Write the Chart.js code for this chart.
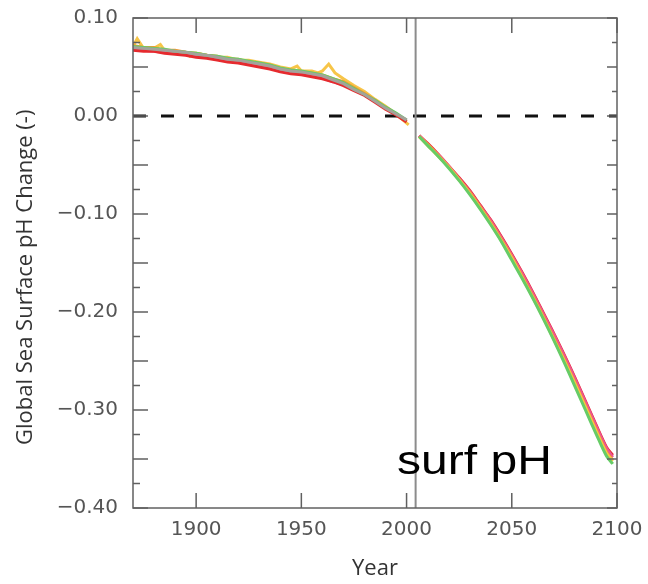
<!DOCTYPE html>
<html>
<head>
<meta charset="utf-8">
<script src="https://cdn.jsdelivr.net/npm/chart.js@4.4.0/dist/chart.umd.min.js"></script>
<style>
  html, body { margin: 0; background: #fff; }
</style>
</head>
<body>
<canvas id="phChart" width="648" height="584"></canvas>
<script>
// axis ticks
const xTicks = [1900, 1950, 2000, 2050, 2100];
const yTicks = [0.10, 0.00, -0.10, -0.20, -0.30, -0.40];
const splitYear = 2004.3;

// historical run, 5-yearly
const histYears = [1870, 1875, 1880, 1885, 1890, 1895, 1900, 1905, 1910, 1915, 1920, 1925, 1930, 1935,
                   1940, 1945, 1950, 1955, 1960, 1965, 1970, 1975, 1980, 1985, 1990, 1995, 2000];
const histGray   = [0.070, 0.069, 0.068, 0.067, 0.066, 0.065, 0.063, 0.062, 0.060, 0.058, 0.057, 0.055, 0.053, 0.051,
                    0.048, 0.046, 0.045, 0.043, 0.041, 0.037, 0.033, 0.027, 0.022, 0.015, 0.008, 0.002, -0.004];
const histGreen  = [0.071, 0.070, 0.069, 0.068, 0.066, 0.065, 0.064, 0.062, 0.061, 0.059, 0.058, 0.056, 0.054, 0.052,
                    0.049, 0.047, 0.046, 0.044, 0.042, 0.038, 0.034, 0.028, 0.022, 0.016, 0.009, 0.003, -0.004];
const histRed    = [0.067, 0.066, 0.066, 0.064, 0.063, 0.062, 0.060, 0.059, 0.057, 0.055, 0.054, 0.052, 0.050, 0.048,
                    0.045, 0.043, 0.042, 0.040, 0.038, 0.035, 0.031, 0.026, 0.021, 0.014, 0.007, 0.001, -0.006];
const histPink   = [0.068, 0.067, 0.066, 0.065, 0.064, 0.063, 0.061, 0.060, 0.058, 0.056, 0.055, 0.053, 0.051, 0.049,
                    0.046, 0.044, 0.043, 0.041, 0.039, 0.035, 0.032, 0.027, 0.022, 0.015, 0.008, 0.002, -0.005];
const histOrange = [0.072, 0.070, 0.070, 0.067, 0.067, 0.065, 0.064, 0.062, 0.061, 0.058, 0.058, 0.055, 0.054, 0.052,
                    0.048, 0.047, 0.045, 0.044, 0.042, 0.038, 0.035, 0.029, 0.023, 0.016, 0.009, 0.002, -0.006];

// the noisier yellow run
const yellowYears = [1870, 1872, 1875, 1880, 1883, 1885, 1890, 1895, 1897, 1900, 1905, 1910, 1915, 1920, 1925, 1930,
                     1935, 1940, 1945, 1948, 1950, 1955, 1958, 1960, 1963, 1966, 1970, 1975, 1980, 1985, 1990, 1995, 2001];
const histYellow  = [0.071, 0.079, 0.069, 0.069, 0.073, 0.067, 0.066, 0.065, 0.061, 0.064, 0.062, 0.060, 0.060, 0.057,
                     0.057, 0.055, 0.053, 0.050, 0.048, 0.051, 0.046, 0.046, 0.044, 0.046, 0.053, 0.044, 0.038, 0.031,
                     0.025, 0.017, 0.010, 0.002, -0.009];

// scenario run
const futYears = [2006, 2010, 2015, 2020, 2025, 2030, 2035, 2040, 2045, 2050, 2055, 2060, 2065, 2070, 2075, 2080,
                  2085, 2090, 2095, 2098];
const futGreen  = [-0.021, -0.030, -0.041, -0.053, -0.066, -0.080, -0.095, -0.111, -0.128, -0.147, -0.166, -0.186,
                   -0.207, -0.229, -0.252, -0.276, -0.300, -0.324, -0.347, -0.355];
const futRed    = [-0.020, -0.028, -0.039, -0.051, -0.063, -0.076, -0.091, -0.106, -0.123, -0.141, -0.160, -0.180,
                   -0.201, -0.222, -0.244, -0.267, -0.291, -0.315, -0.338, -0.346];
const futPink   = [-0.020, -0.029, -0.039, -0.051, -0.064, -0.077, -0.092, -0.107, -0.124, -0.142, -0.161, -0.181,
                   -0.202, -0.223, -0.245, -0.268, -0.292, -0.316, -0.339, -0.348];
const futOrange = [-0.021, -0.029, -0.040, -0.052, -0.065, -0.078, -0.093, -0.109, -0.126, -0.144, -0.164, -0.184,
                   -0.205, -0.227, -0.249, -0.272, -0.296, -0.320, -0.343, -0.351];
const futYellow = [-0.021, -0.030, -0.041, -0.052, -0.065, -0.079, -0.094, -0.110, -0.127, -0.145, -0.165, -0.185,
                   -0.206, -0.228, -0.250, -0.273, -0.297, -0.321, -0.344, -0.352];

const C = {gray: '#a3a39a', green: '#66cc66', red: '#e62a2e', pink: '#ec5593', orange: '#f39a2f', yellow: '#f7c548'};

function pts(xs, ys) {
  return xs.map((x, i) => ({x: x, y: ys[i]}));
}

function line(xs, ys, color, tension) {
  return {
    data: pts(xs, ys),
    borderColor: color,
    borderWidth: 3,
    pointRadius: 0,
    tension: tension,
    fill: false
  };
}

const fmt = v => (v < 0 ? '\u2212' + Math.abs(v).toFixed(2) : v.toFixed(2));

// frame, inward ticks, zero line and split line
const decor = {
  id: 'decor',
  beforeDatasetsDraw(chart) {
    const {ctx, chartArea: a, scales: {x, y}} = chart;
    ctx.save();
    const y0 = y.getPixelForValue(0);
    ctx.strokeStyle = '#111';
    ctx.lineWidth = 3;
    ctx.setLineDash([13, 15]);
    ctx.beginPath();
    ctx.moveTo(a.left, y0);
    ctx.lineTo(a.right, y0);
    ctx.stroke();
    ctx.setLineDash([]);
    const xs = x.getPixelForValue(splitYear);
    ctx.strokeStyle = '#8c8c8c';
    ctx.lineWidth = 2;
    ctx.beginPath();
    ctx.moveTo(xs, a.top);
    ctx.lineTo(xs, a.bottom);
    ctx.stroke();
    ctx.restore();
  },
  afterDatasetsDraw(chart) {
    const {ctx, chartArea: a, scales: {x, y}} = chart;
    ctx.save();
    ctx.strokeStyle = '#606060';
    ctx.lineWidth = 1.5;
    ctx.strokeRect(a.left, a.top, a.right - a.left, a.bottom - a.top);
    ctx.beginPath();
    xTicks.forEach(t => {
      const px = x.getPixelForValue(t);
      ctx.moveTo(px, a.bottom); ctx.lineTo(px, a.bottom - 15);
      ctx.moveTo(px, a.top); ctx.lineTo(px, a.top + 15);
    });
    for (let i = 0; i <= 20; i++) {
      const v = -0.40 + i * 0.025;
      const py = y.getPixelForValue(v);
      const major = i % 2 === 0;
      ctx.moveTo(a.left, py); ctx.lineTo(a.left + (major ? 15 : 7), py);
      ctx.moveTo(a.right, py); ctx.lineTo(a.right - (major ? 10 : 5), py);
    }
    ctx.stroke();
    ctx.restore();
  },
  afterDraw(chart) {
    const {ctx, scales: {x, y}} = chart;
    ctx.save();
    ctx.fillStyle = '#000';
    ctx.font = '40px "Liberation Sans", Arial, sans-serif';
    ctx.textBaseline = 'alphabetic';
    ctx.translate(x.getPixelForValue(1995.5), y.getPixelForValue(-0.365));
    ctx.scale(1.2, 1);
    ctx.fillText('surf pH', 0, 0);
    ctx.restore();
  }
};

new Chart(document.getElementById('phChart'), {
  type: 'line',
  data: {
    datasets: [
      line(histYears, histGray, C.gray, 0),
      line(histYears, histGreen, C.green, 0),
      line(histYears, histRed, C.red, 0),
      line(histYears, histPink, C.pink, 0),
      line(histYears, histOrange, C.orange, 0),
      line(yellowYears, histYellow, C.yellow, 0),
      line(futYears, futGreen, C.green, 0.3),
      line(futYears, futYellow, C.yellow, 0.3),
      line(futYears, futOrange, C.orange, 0.3),
      line(futYears, futPink, C.pink, 0.3),
      line(futYears, futRed, C.red, 0.3)
    ]
  },
  options: {
    responsive: false,
    animation: false,
    layout: {padding: {left: 0, right: 31, top: 18, bottom: 0}},
    plugins: {legend: {display: false}, tooltip: {enabled: false}},
    scales: {
      x: {
        type: 'linear',
        min: 1870,
        max: 2100,
        afterFit: s => { s.height = 76; },
        afterBuildTicks: s => { s.ticks = xTicks.map(v => ({value: v})); },
        grid: {display: false, drawTicks: true, tickLength: 10},
        border: {display: false},
        ticks: {
          padding: 0,
          color: '#555',
          font: {family: '"DejaVu Sans", sans-serif', size: 20},
          maxRotation: 0,
          callback: v => String(v)
        },
        title: {
          display: true,
          text: 'Year',
          color: '#333',
          font: {family: '"Open Sans", sans-serif', size: 22},
          padding: {top: 0, bottom: 2}
        }
      },
      y: {
        min: -0.40,
        max: 0.10,
        afterFit: s => { s.width = 133; },
        afterBuildTicks: s => { s.ticks = yTicks.map(v => ({value: v})); },
        grid: {display: false, drawTicks: true, tickLength: 15},
        border: {display: false},
        ticks: {
          padding: 0,
          color: '#555',
          font: {family: '"DejaVu Sans", sans-serif', size: 20},
          callback: v => fmt(v)
        },
        title: {
          display: true,
          text: 'Global Sea Surface pH Change (-)\u00a0\u00a0\u00a0\u00a0\u00a0',
          color: '#333',
          font: {family: '"Open Sans", sans-serif', size: 22},
          padding: {top: 13, bottom: 0}
        }
      }
    }
  },
  plugins: [decor]
});
</script>
</body>
</html>
